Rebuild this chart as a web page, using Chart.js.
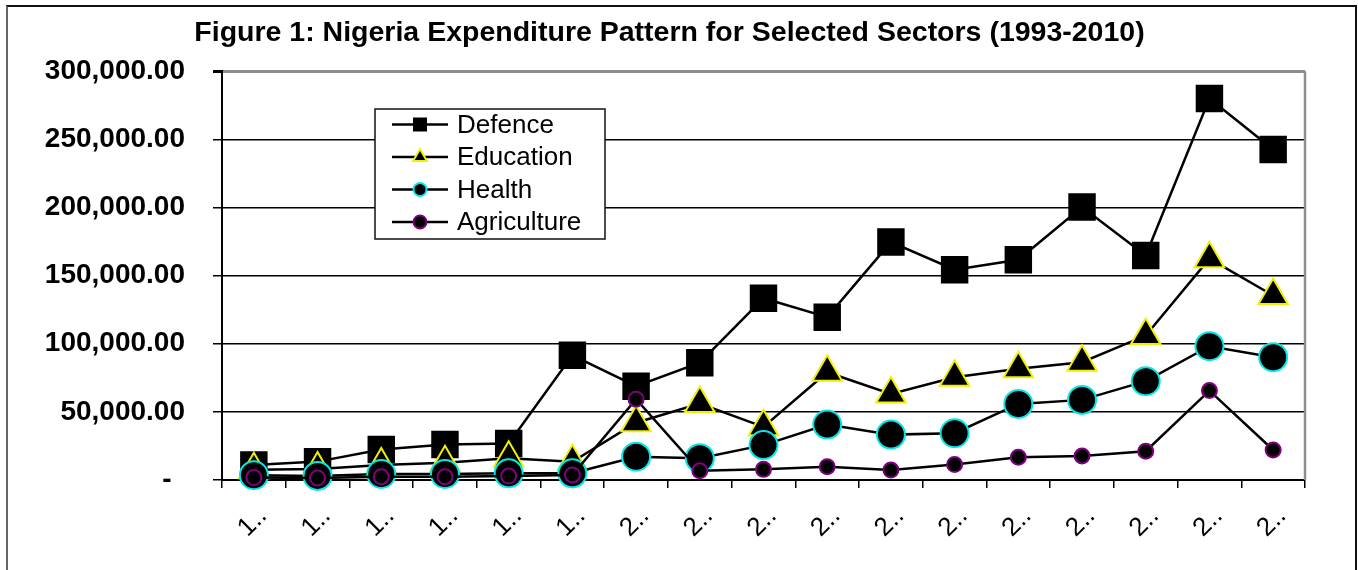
<!DOCTYPE html>
<html>
<head>
<meta charset="utf-8">
<title>Nigeria Expenditure Pattern</title>
<script src="https://cdn.jsdelivr.net/npm/chart.js@4/dist/chart.umd.min.js"></script>
<style>
  html, body { margin: 0; padding: 0; background: #fff; overflow: hidden; }
  #wrap { position: relative; width: 1358px; height: 570px; }
  #frame {
    position: absolute; left: 6px; top: 5px; width: 1347px; height: 600px;
    border: 2px solid #111; border-left-color: #666; pointer-events: none;
  }
</style>
</head>
<body>
<div id="wrap">
  <canvas id="chart" width="1358" height="570"></canvas>
  <div id="frame"></div>
</div>
<script>
// Nigeria expenditure by sector
var YEARS = [1994, 1995, 1996, 1997, 1998, 1999, 2000, 2001, 2002, 2003, 2004, 2005, 2006, 2007, 2008, 2009, 2010];
var DEFENCE = [11000, 13500, 22400, 26100, 26800, 91500, 68800, 86100, 133400, 119500, 174600, 154300, 161600, 200300, 164800, 279900, 242500];
var EDUCATION = [7500, 8000, 11000, 12700, 15900, 13400, 42000, 56100, 39000, 79100, 63200, 75400, 81600, 86400, 106000, 162400, 135400];
var HEALTH = [3500, 3000, 4400, 4400, 4900, 4900, 17100, 16000, 25600, 40700, 33300, 34300, 55800, 58800, 72500, 98200, 90100];
var AGRICULTURE = [1800, 1500, 2400, 2400, 2900, 3700, 59300, 6800, 7800, 9800, 7300, 11300, 16700, 17600, 21100, 65600, 22000];
var Y_TICKS = [0, 50000, 100000, 150000, 200000, 250000, 300000];

var FONT = '"Liberation Sans", Arial, sans-serif';

// gray frame on the right edge of the plot
var plotFrame = {
  id: 'plotFrame',
  beforeDatasetsDraw: function (chart) {
    var a = chart.chartArea, ctx = chart.ctx;
    ctx.save();
    ctx.strokeStyle = '#8c8c8c';
    ctx.lineWidth = 2.5;
    ctx.beginPath();
    ctx.moveTo(a.right, a.top);
    ctx.lineTo(a.right, a.bottom);
    ctx.stroke();
    ctx.restore();
  }
};

// boxed legend inside the plot, line + marker samples
var boxLegend = {
  id: 'boxLegend',
  afterDraw: function (chart) {
    var ctx = chart.ctx;
    var x0 = 375, y0 = 109, w = 230, h = 130;
    var rows = [124.5, 157, 189.5, 222];
    var sizes = [8.5, 8, 6.5, 6.5];
    ctx.save();
    ctx.fillStyle = '#fff';
    ctx.fillRect(x0, y0, w, h);
    ctx.strokeStyle = '#111';
    ctx.lineWidth = 1.5;
    ctx.strokeRect(x0, y0, w, h);
    chart.data.datasets.forEach(function (ds, i) {
      var y = rows[i];
      ctx.strokeStyle = '#000';
      ctx.lineWidth = 2.5;
      ctx.beginPath();
      ctx.moveTo(392, y);
      ctx.lineTo(448, y);
      ctx.stroke();
      ctx.fillStyle = ds.pointBackgroundColor;
      ctx.strokeStyle = ds.pointBorderColor;
      ctx.lineWidth = ds.pointBorderWidth;
      Chart.helpers.drawPoint(ctx, {
        pointStyle: ds.pointStyle, radius: sizes[i], rotation: 0, borderWidth: ds.pointBorderWidth
      }, 420, y);
      ctx.fillStyle = '#000';
      ctx.font = '26px ' + FONT;
      ctx.textBaseline = 'middle';
      ctx.textAlign = 'left';
      ctx.fillText(ds.label, 457, y + 1);
    });
    ctx.restore();
  }
};

function series(label, data, style, radius, edge, order) {
  return {
    label: label,
    data: data,
    borderColor: '#000',
    borderWidth: 2.5,
    tension: 0,
    pointStyle: style,
    pointRadius: radius,
    pointHoverRadius: radius,
    pointBackgroundColor: '#000',
    pointBorderColor: edge,
    pointBorderWidth: 2,
    order: order,
    clip: false
  };
}

new Chart(document.getElementById('chart').getContext('2d'), {
  type: 'line',
  data: {
    labels: YEARS,
    datasets: [
      series('Defence', DEFENCE, 'rect', 18, '#000', 4),
      series('Education', EDUCATION, 'triangle', 17, '#f0f000', 3),
      series('Health', HEALTH, 'circle', 14, '#00e8e8', 2),
      series('Agriculture', AGRICULTURE, 'circle', 7.5, '#800080', 1)
    ]
  },
  options: {
    responsive: false,
    animation: false,
    layout: { padding: { left: 0, right: 19, top: 0, bottom: 0 } },
    plugins: {
      legend: { display: false },
      tooltip: { enabled: false },
      title: {
        display: true,
        text: 'Figure 1: Nigeria Expenditure Pattern for Selected Sectors (1993-2010)',
        color: '#000',
        align: 'center',
        font: { family: FONT, size: 28.5, weight: 'bold', lineHeight: 1.2 },
        padding: { top: 16, bottom: 21 }
      }
    },
    scales: {
      x: {
        type: 'category',
        offset: true,
        afterFit: function (s) { s.height = 90; },
        border: { display: true, color: '#000', width: 2 },
        grid: { display: true, drawOnChartArea: false, drawTicks: true, tickLength: 8, color: '#000', lineWidth: 1.5, offset: true },
        ticks: {
          autoSkip: false,
          minRotation: 45,
          maxRotation: 45,
          padding: 13,
          labelOffset: 9,
          color: '#000',
          font: { family: FONT, size: 26 },
          callback: function (v, i) { return String(YEARS[i]).charAt(0) + '..'; }
        }
      },
      y: {
        min: 0,
        max: 300000,
        afterFit: function (s) { s.width = 222; },
        afterBuildTicks: function (s) { s.ticks = Y_TICKS.map(function (v) { return { value: v }; }); },
        border: { display: true, color: '#000', width: 2 },
        grid: {
          color: function (c) { return c.tick && c.tick.value === 300000 ? '#8c8c8c' : '#000'; },
          lineWidth: function (c) { return c.tick && c.tick.value === 300000 ? 3 : 1.5; },
          tickLength: 9,
          tickColor: '#000'
        },
        ticks: {
          padding: 28,
          color: '#000',
          font: { family: FONT, size: 28, weight: 'bold' },
          callback: function (v) {
            if (v === 0) return '- \u2009';
            return v.toLocaleString('en-US', { minimumFractionDigits: 2, maximumFractionDigits: 2 });
          }
        }
      },
      // empty right-hand spacer so the title centres like the original
      yRight: {
        position: 'right',
        min: 0,
        max: 300000,
        afterFit: function (s) { s.width = 34; },
        grid: { display: false },
        border: { display: false },
        ticks: { display: false }
      }
    }
  },
  plugins: [plotFrame, boxLegend]
});
</script>
</body>
</html>
